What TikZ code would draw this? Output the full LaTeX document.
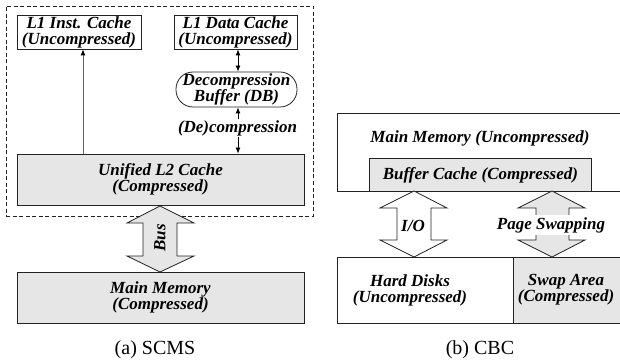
\documentclass[tikz,border=0pt]{standalone}
\usepackage{fontspec}
\setmainfont{Liberation Serif}
\usetikzlibrary{arrows.meta}
\definecolor{boxgray}{HTML}{E6E6E6}
\definecolor{linegray}{HTML}{222222}
\newcommand{\boxfont}{\fontsize{17}{16}\selectfont\bfseries\itshape}
\begin{document}
\begin{tikzpicture}[x=1pt,y=-1pt,
  box/.style={draw=linegray, line width=0.8pt, inner sep=0pt, align=center, font=\boxfont},
  gbox/.style={box, fill=boxgray},
  lbl/.style={inner sep=0pt, align=center, font=\boxfont},
  tipped/.style={line width=0.8pt, {Latex[length=6pt,width=5pt]}-{Latex[length=6pt,width=5pt]}},
  uptip/.style={line width=0.8pt, -{Latex[length=6pt,width=5pt]}},
  blockarrow/.style={draw=linegray, line width=0.8pt, line join=miter},
  caption/.style={inner sep=0pt, font=\fontsize{20}{24}\selectfont}
]
\useasboundingbox (0,0) rectangle (620,363);

% ---------- (a) SCMS ----------
\node[draw=linegray, line width=0.8pt, dash pattern=on 4pt off 2.5pt,
      minimum width=307pt, minimum height=210pt, inner sep=0pt] (chip) at (159.5,111) {};

\node[box, minimum width=124pt, minimum height=34pt] (l1i) at (79,32) {L1 Inst. Cache\\(Uncompressed)};
\node[box, minimum width=123pt, minimum height=34pt] (l1d) at (235.5,32) {L1 Data Cache\\(Uncompressed)};
\node[box, minimum width=121pt, minimum height=35pt, rounded corners=17pt] (db) at (236.5,89.5) {Decompression\\Buffer (DB)};
\node[gbox, minimum width=287pt, minimum height=51pt] (l2) at (160.5,179.5) {Unified L2 Cache\\(Compressed)};
\node[gbox, minimum width=287pt, minimum height=51pt] (mma) at (160.5,297.5) {Main Memory\\(Compressed)};

\coordinate (ax) at (238,0);
\coordinate (ix) at (83,0);
\draw[tipped] (l1d.south -| ax) -- (db.north -| ax);
\draw[tipped] (db.south -| ax) -- (l2.north -| ax);
\node[lbl, fill=white, inner sep=1.5pt] (dec) at (237.5,128) {(De)compression};
\draw[uptip, draw=black!60, -{Latex[length=6pt,width=5pt,fill=black,color=black]}] (l2.north -| ix) -- (l1i.south -| ix);

% Bus block arrow
\draw[blockarrow, fill=boxgray] (160,206) -- (194,223) -- (177,223) -- (177,256) -- (194,256)
  -- (160,272) -- (127,256) -- (143,256) -- (143,223) -- (127,223) -- cycle;
\node[lbl, rotate=90] (bus) at (160,238) {Bus};

\node[caption] (capa) at (155,350) {(a) SCMS};

% ---------- (b) CBC ----------
\node[box, anchor=north west, minimum width=285pt, minimum height=78pt] (mmb) at (337,113) {};
\node[lbl] (mmbt) at (480,138) {Main Memory (Uncompressed)};
\node[gbox, anchor=north west, minimum width=222pt, minimum height=33pt] (buf) at (369,158) {Buffer Cache (Compressed)};

\node[box, anchor=north west, minimum width=176pt, minimum height=66pt] (hd) at (337,257) {};
\node[gbox, anchor=north west, minimum width=109pt, minimum height=66pt] (swap) at (513,257) {};
\node[lbl] (hdt) at (410,290) {Hard Disks\\(Uncompressed)};
\node[lbl] (swapt) at (566,290) {Swap Area\\(Compressed)};

% I/O block arrow
\draw[blockarrow, fill=white] (414,191) -- (447,208) -- (431,208) -- (431,240) -- (447,240)
  -- (414,257) -- (380,240) -- (397,240) -- (397,208) -- (380,208) -- cycle;
\node[lbl] (io) at (413,226) {I/O};

% Page swapping block arrow
\draw[blockarrow, fill=boxgray] (552,191) -- (585,208) -- (569,208) -- (569,240) -- (585,240)
  -- (552,257) -- (518,240) -- (536,240) -- (536,208) -- (518,208) -- cycle;
\node[lbl, fill=white, inner sep=2pt] (ps) at (551,225) {Page Swapping};

\node[caption] (capb) at (480,350) {(b) CBC};
\end{tikzpicture}
\end{document}
